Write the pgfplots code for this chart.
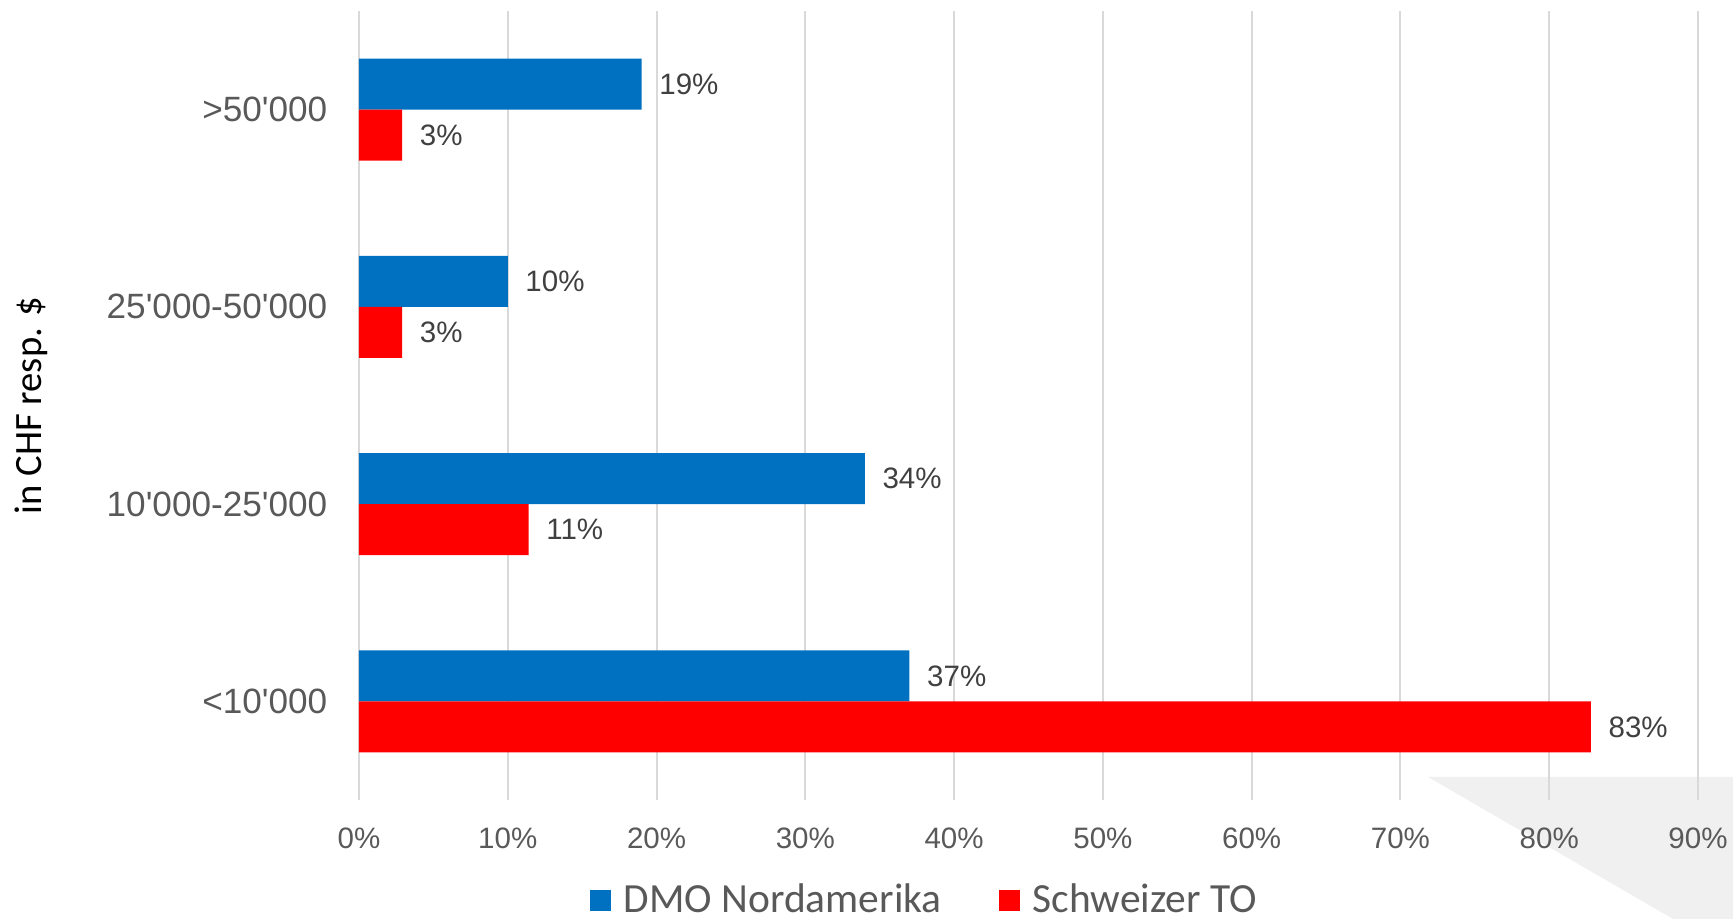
\documentclass[border=0pt]{standalone}
\usepackage{fontspec}
\setmainfont{Liberation Sans}
\newfontfamily\carlito{Carlito}
\usepackage{pgfplots}
\pgfplotsset{compat=1.18}
\definecolor{dmoblue}{HTML}{0070C0}
\definecolor{toRed}{HTML}{FF0000}
\definecolor{gridgray}{HTML}{D9D9D9}
\definecolor{ticktext}{HTML}{595959}
\definecolor{valtext}{HTML}{404040}
\definecolor{decogray}{HTML}{F0F0F0}
\newcommand{\q}{\textquotesingle}
\begin{document}
\begin{tikzpicture}
  \useasboundingbox (-3.59,-1.19) rectangle (13.74,8.0);
  % light grey decoration, bottom right
  \fill[decogray] (10.69,0.23) -- (13.74,0.23) -- (13.74,-1.19) -- (13.14,-1.19) -- cycle;
  \begin{axis}[
      at={(0,0)}, anchor=south west,
      scale only axis,
      width=13.39cm, height=7.89cm,
      xbar,
      bar width=0.51cm,
      xmin=0, xmax=90,
      ymin=-0.5, ymax=3.5,
      xtick={0,10,...,90},
      xticklabels={0\%,10\%,20\%,30\%,40\%,50\%,60\%,70\%,80\%,90\%},
      ytick={0,1,2,3},
      yticklabels={<10\q000,10\q000-25\q000,25\q000-50\q000,>50\q000},
      xmajorgrids,
      grid style={gridgray, line width=0.55pt},
      axis line style={draw=none},
      major tick length=0pt,
      xticklabel style={font=\fontsize{8.4}{10}\selectfont, text=ticktext, anchor=center, yshift=-0.38cm},
      yticklabel style={font=\fontsize{10}{12}\selectfont, text=ticktext, inner sep=0pt, anchor=east, xshift=-0.31cm},
      ylabel={in CHF resp. \$},
      ylabel style={at={(rel axis cs:-0.245,0.5)}, anchor=center, font=\carlito\fontsize{11}{13}\selectfont, text=black},
      point meta=x,
      /pgf/number format/assume math mode=true,
      nodes near coords={\pgfmathprintnumber[fixed,precision=0]{\pgfplotspointmeta}\%},
      every node near coord/.append style={font=\fontsize{8.4}{10}\selectfont, text=valtext, anchor=west, inner sep=0pt, xshift=0.17cm},
      legend style={at={(rel axis cs:0.424,-0.128)}, anchor=center, draw=none, fill=none,
        legend columns=-1, font=\carlito\fontsize{11.8}{14}\selectfont, text=ticktext,
        /tikz/every even column/.append style={column sep=0.5cm}},
      legend image code/.code={\fill[#1] (0cm,-0.105cm) rectangle (0.21cm,0.105cm); \path (0.27cm,0cm);},
    ]
    \addplot[fill=dmoblue, draw=none, bar shift=0.255cm] coordinates {
      (37,0) (34,1) (10,2) (19,3)
    };
    \addplot[fill=toRed, draw=none, bar shift=-0.255cm] coordinates {
      (82.8,0) (11.4,1) (2.9,2) (2.9,3)
    };
    \legend{DMO Nordamerika, Schweizer TO}
  \end{axis}
\end{tikzpicture}
\end{document}
